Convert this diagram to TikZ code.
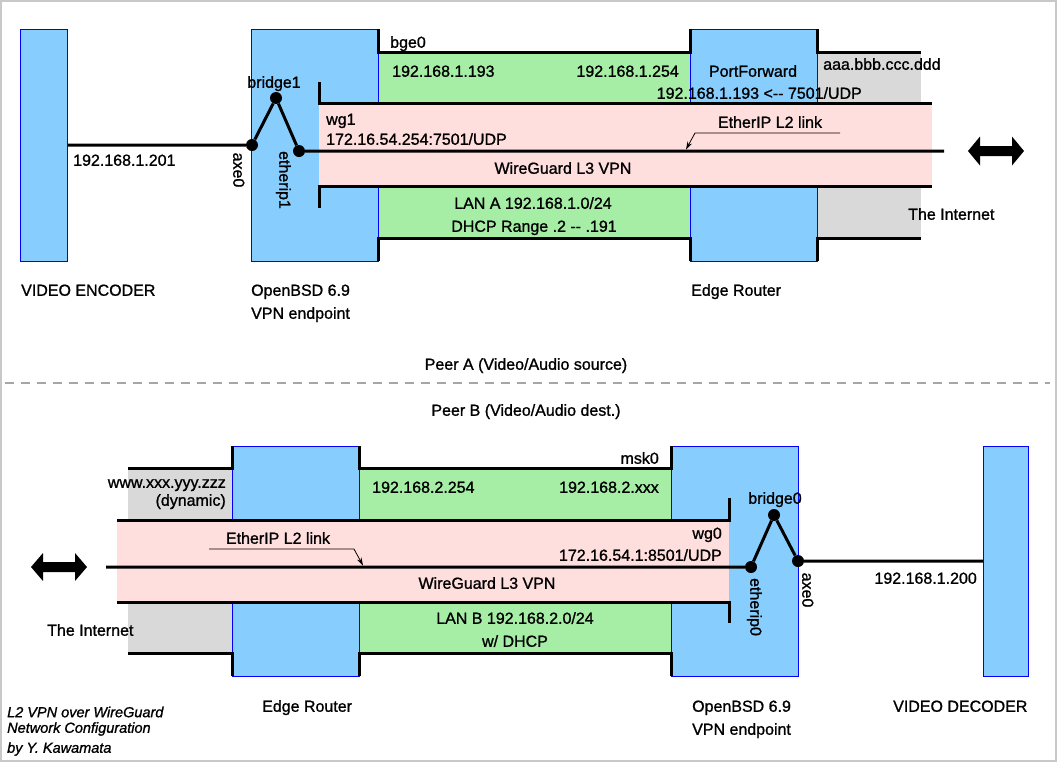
\documentclass[tikz,border=0pt]{standalone}
\usepackage{fontspec}
\setmainfont{Liberation Sans}
\newfontfamily\labelfont{Liberation Sans}[FakeBold=1.1]
\usetikzlibrary{arrows.meta}

\definecolor{hostblue}{RGB}{135,206,255}
\definecolor{langreen}{RGB}{166,238,166}
\definecolor{vpnpink}{RGB}{255,222,222}
\definecolor{netgray}{RGB}{217,217,217}
\definecolor{framegray}{RGB}{200,200,200}

\tikzset{
    host/.style={fill=hostblue, draw=blue, line width=0.8pt, anchor=north west, minimum width=127pt, minimum height=232pt},
    wall/.style={black, line width=3pt},
    link/.style={black, line width=3pt},
    port/.style={circle, fill=black, inner sep=0pt, minimum size=12pt},
    note/.style={black, line width=0.8pt, -{Stealth[length=8pt,width=5pt]}},
    lbl/.style={inner sep=0pt, text height=11.5pt, text depth=0pt, font=\labelfont\fontsize{16}{18}\selectfont},
    credit/.style={inner sep=0pt, anchor=west, font=\labelfont\fontsize{14.5}{17}\selectfont\itshape}
}

\begin{document}
\begin{tikzpicture}[x=1pt, y=-1pt]
        \useasboundingbox (0,0) rectangle (1058,764);
        \draw[framegray, line width=1.5pt] (1,1) rectangle (1056,761);

        % Peer A
        \fill[netgray] (817,52) rectangle (921,238);
        \fill[langreen] (378,52) rectangle (690,238);
        \node[host, minimum width=47pt] (encA) at (20,29) {};
        \node[host] (bsdA) at (251,29) {};
        \node[host] (rtrA) at (690,29) {};
        \fill[vpnpink] (319,103) rectangle (932,186);

        \draw[wall] (378,29) -- (378,52) -- (690,52) -- (690,29);
        \draw[wall] (817,29) -- (817,52) -- (921,52);
        \draw[wall] (378,261) -- (378,238) -- (690,238) -- (690,261);
        \draw[wall] (817,261) -- (817,238) -- (921,238);
        \draw[wall] (319,82) -- (319,103) -- (932,103);
        \draw[wall] (319,208) -- (319,186) -- (932,186);

        \node[port] (axeA) at (252,145) {};
        \node[port] (brA) at (276,98) {};
        \node[port] (eipA) at (299,151) {};
        \coordinate (tunA) at (944,151);
        \draw[link] (encA.east |- axeA) -- (axeA) -- (brA) -- (eipA) -- (tunA);

        \coordinate (tagA) at (840,133);
        \coordinate (bendA) at (695,133);
        \coordinate (hitA) at (686,149.5);
        \draw[note] (tagA) -- (bendA) -- (hitA);

        \fill[black] (968,151) -- (980,136.5) -- (980,146) -- (1012,146) -- (1012,136.5) -- (1024,151)
                -- (1012,165.5) -- (1012,156) -- (980,156) -- (980,165.5) -- cycle;

        \node[lbl] (brlblA) at (274,82) {bridge1};
        \node[lbl, rotate=-90] (axelblA) at (239,170) {axe0};
        \node[lbl, rotate=-90] (eiplblA) at (285,180) {etherip1};
        \node[lbl, anchor=west] at (73,160) {192.168.1.201};
        \node[lbl, anchor=west] at (390,42) {bge0};
        \node[lbl, anchor=west] at (392,71) {192.168.1.193};
        \node[lbl, anchor=east] at (679,71) {192.168.1.254};
        \node[lbl] at (753,71) {PortForward};
        \node[lbl, anchor=west] at (823,64) {aaa.bbb.ccc.ddd};
        \node[lbl, anchor=east] at (862,93) {192.168.1.193 <-{}- 7501/UDP};
        \node[lbl, anchor=west] at (326,119) {wg1};
        \node[lbl, anchor=west] at (326,139) {172.16.54.254:7501/UDP};
        \node[lbl] at (770,122) {EtherIP L2 link};
        \node[lbl] at (563,168) {WireGuard L3 VPN};
        \node[lbl] at (533,203) {LAN A 192.168.1.0/24};
        \node[lbl] at (534,226) {DHCP Range .2 -{}- .191};
        \node[lbl, anchor=west] at (908,214) {The Internet};
        \node[lbl, anchor=west] at (21,290) {VIDEO ENCODER};
        \node[lbl, anchor=west] at (251,290) {OpenBSD 6.9};
        \node[lbl, anchor=west] at (251,313) {VPN endpoint};
        \node[lbl, anchor=west] at (691,290) {Edge Router};

        \node[lbl] at (526,364) {Peer A (Video/Audio source)};
        \draw[gray!70, line width=1.5pt, dash pattern=on 9pt off 7pt] (5,383) -- (1050,383);
        \node[lbl] at (526,410) {Peer B (Video/Audio dest.)};

        % Peer B
        \fill[netgray] (128,468) rectangle (232,653);
        \fill[langreen] (359,468) rectangle (671,653);
        \node[host, minimum height=230pt] (rtrB) at (232,446) {};
        \node[host, minimum height=230pt] (bsdB) at (671,446) {};
        \node[host, minimum height=230pt, minimum width=45pt] (decB) at (983,446) {};
        \fill[vpnpink] (117,520) rectangle (729,602);

        \draw[wall] (128,468) -- (232,468) -- (232,446);
        \draw[wall] (359,446) -- (359,468) -- (671,468) -- (671,446);
        \draw[wall] (128,653) -- (232,653) -- (232,676);
        \draw[wall] (359,676) -- (359,653) -- (671,653) -- (671,676);
        \draw[wall] (117,520) -- (729,520) -- (729,498);
        \draw[wall] (117,602) -- (729,602) -- (729,623);

        \node[port] (eipB) at (751,567) {};
        \node[port] (brB) at (774,515) {};
        \node[port] (axeB) at (798,561) {};
        \coordinate (tunB) at (106,567);
        \draw[link] (tunB) -- (eipB) -- (brB) -- (axeB) -- (axeB -| decB.west);

        \coordinate (tagB) at (209,549);
        \coordinate (bendB) at (354,549);
        \coordinate (hitB) at (363,565.5);
        \draw[note] (tagB) -- (bendB) -- (hitB);

        \fill[black] (31,567) -- (43,553) -- (43,562) -- (75,562) -- (75,553) -- (87,567)
                -- (75,581) -- (75,572) -- (43,572) -- (43,581) -- cycle;

        \node[lbl, anchor=east] at (659,458) {msk0};
        \node[lbl, anchor=east] at (226,482) {www.xxx.yyy.zzz};
        \node[lbl, anchor=east] at (226,500) {(dynamic)};
        \node[lbl, anchor=west] at (372,487) {192.168.2.254};
        \node[lbl, anchor=east] at (659,487) {192.168.2.xxx};
        \node[lbl, anchor=east] at (722,533) {wg0};
        \node[lbl, anchor=east] at (722,555) {172.16.54.1:8501/UDP};
        \node[lbl] (brlblB) at (775,498) {bridge0};
        \node[lbl, rotate=-90] (eiplblB) at (756,607) {etherip0};
        \node[lbl, rotate=-90] (axelblB) at (808,590) {axe0};
        \node[lbl, anchor=east] at (977,578) {192.168.1.200};
        \node[lbl] at (278,538) {EtherIP L2 link};
        \node[lbl] at (487,583) {WireGuard L3 VPN};
        \node[lbl] at (515,618) {LAN B 192.168.2.0/24};
        \node[lbl] at (515,641) {w/ DHCP};
        \node[lbl, anchor=west] at (47,630) {The Internet};
        \node[lbl, anchor=west] at (262,706) {Edge Router};
        \node[lbl, anchor=west] at (692,706) {OpenBSD 6.9};
        \node[lbl, anchor=west] at (692,729) {VPN endpoint};
        \node[lbl, anchor=west] at (893,706) {VIDEO DECODER};

        \node[credit] at (7,712) {L2 VPN over WireGuard};
        \node[credit] at (7,729) {Network Configuration};
        \node[credit] at (7,749) {by Y. Kawamata};
\end{tikzpicture}
\end{document}
